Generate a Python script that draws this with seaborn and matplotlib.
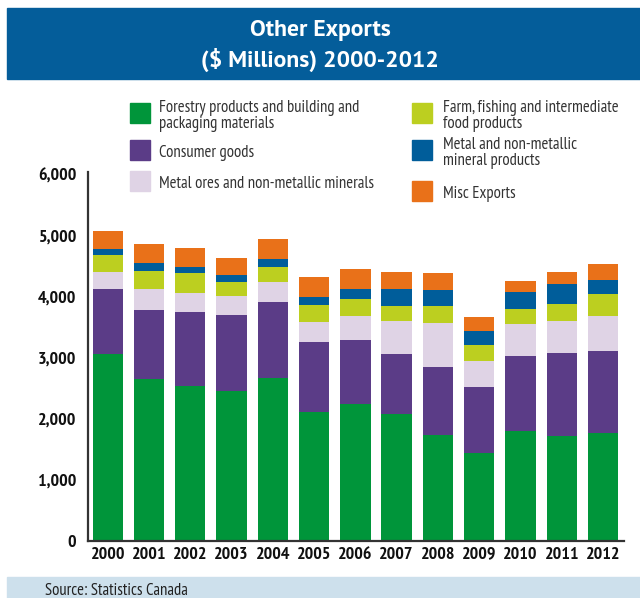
import matplotlib
matplotlib.use("Agg")
import matplotlib.pyplot as plt
from matplotlib.patches import Rectangle
import numpy as np
import pandas as pd
import seaborn as sns

years = ["2000", "2001", "2002", "2003", "2004", "2005", "2006",
         "2007", "2008", "2009", "2010", "2011", "2012"]
forestry = [3060, 2656, 2541, 2459, 2672, 2115, 2246, 2082, 1738, 1443, 1803, 1721, 1770]
consumer = [1066, 1131, 1213, 1246, 1246, 1148, 1049, 984, 1115, 1082, 1230, 1361, 1344]
metal_ores = [279, 344, 311, 311, 328, 328, 393, 541, 721, 426, 525, 525, 574]
farm = [279, 295, 328, 230, 246, 279, 279, 246, 279, 262, 246, 279, 361]
metal_prod = [98, 131, 98, 115, 131, 131, 164, 279, 262, 230, 279, 328, 230]
misc = [295, 311, 311, 279, 328, 328, 328, 279, 279, 230, 180, 197, 262]

series_names = ["Forestry products and building and\npackaging materials",
                "Consumer goods",
                "Metal ores and non-metallic minerals",
                "Farm, fishing and intermediate\nfood products",
                "Metal and non-metallic\nmineral products",
                "Misc Exports"]
series_vals = [forestry, consumer, metal_ores, farm, metal_prod, misc]
colors = ["#00953a", "#5b3c87", "#dfd3e5", "#bccf20", "#005d9a", "#e97119"]

sns.set_style("white")
plt.rcParams['font.family'] = ["PT Sans Narrow", "DejaVu Sans"]

W, H = 640, 598
fig = plt.figure(figsize=(6.4, 5.98), dpi=100)
ax = fig.add_axes([87.5/W, 1-541/H, (624-87.5)/W, (541-172)/H])

df = pd.DataFrame({"year": years})
cum = np.zeros(len(years))
cums = []
for v in series_vals:
    cum = cum + np.array(v)
    cums.append(cum.copy())
for i in range(len(series_vals) - 1, -1, -1):
    df["val"] = cums[i]
    sns.barplot(data=df, x="year", y="val", color=colors[i], saturation=1,
                width=0.735, ax=ax, linewidth=0, edgecolor="none")

ax.set_xlim(-0.49, 12.51)
ax.set_ylim(0, 6050)
ax.set_yticks([0, 1000, 2000, 3000, 4000, 5000, 6000])
ax.set_yticklabels(["0", "1,000", "2,000", "3,000", "4,000", "5,000", "6,000"])
ax.set_xlabel("")
ax.set_ylabel("")
for s in ["top", "right"]:
    ax.spines[s].set_visible(False)
for s in ["left", "bottom"]:
    ax.spines[s].set_color("#333333")
    ax.spines[s].set_linewidth(1.6)
ax.tick_params(axis="both", length=0, labelsize=13, colors="#111111")
ax.tick_params(axis="y", pad=8)
ax.tick_params(axis="x", pad=4)
for lab in ax.get_xticklabels() + ax.get_yticklabels():
    lab.set_fontweight("bold")

# title banner
fig.patches.append(Rectangle((7/W, 1-79/H), 1-7/W, 71/H,
                             transform=fig.transFigure, color="#045d9a", zorder=0))
tfam = ["PT Sans", "Fira Sans", "DejaVu Sans"]
fig.text(0.5, 1-36/H, "Other Exports", ha="center", va="baseline",
         color="white", fontsize=17, fontweight="bold", family=tfam)
fig.text(0.5, 1-67/H, "($ Millions) 2000-2012", ha="center", va="baseline",
         color="white", fontsize=17, fontweight="bold", family=tfam)

# source banner
fig.patches.append(Rectangle((7/W, 0), 1-7/W, 21/H,
                             transform=fig.transFigure, color="#cde0ec", zorder=0))
fig.text(45/W, 3/H, "Source: Statistics Canada", ha="left", va="baseline",
         color="#222222", fontsize=12)

# legend
pos = [(130, 113), (130, 150), (130, 181), (412, 113), (412, 150), (412, 191)]
tx = [159, 159, 159, 443, 443, 443]
for (px, py), x0, name, c in zip(pos, tx, series_names, colors):
    fig.patches.append(Rectangle((px/W, 1-(py+10)/H), 20/W, 20/H,
                                 transform=fig.transFigure, color=c))
    fig.text(x0/W, 1-(py+3)/H, name, ha="left", va="center",
             fontsize=12, color="#333333", linespacing=1.05)

fig.savefig("out.png", dpi=100)
